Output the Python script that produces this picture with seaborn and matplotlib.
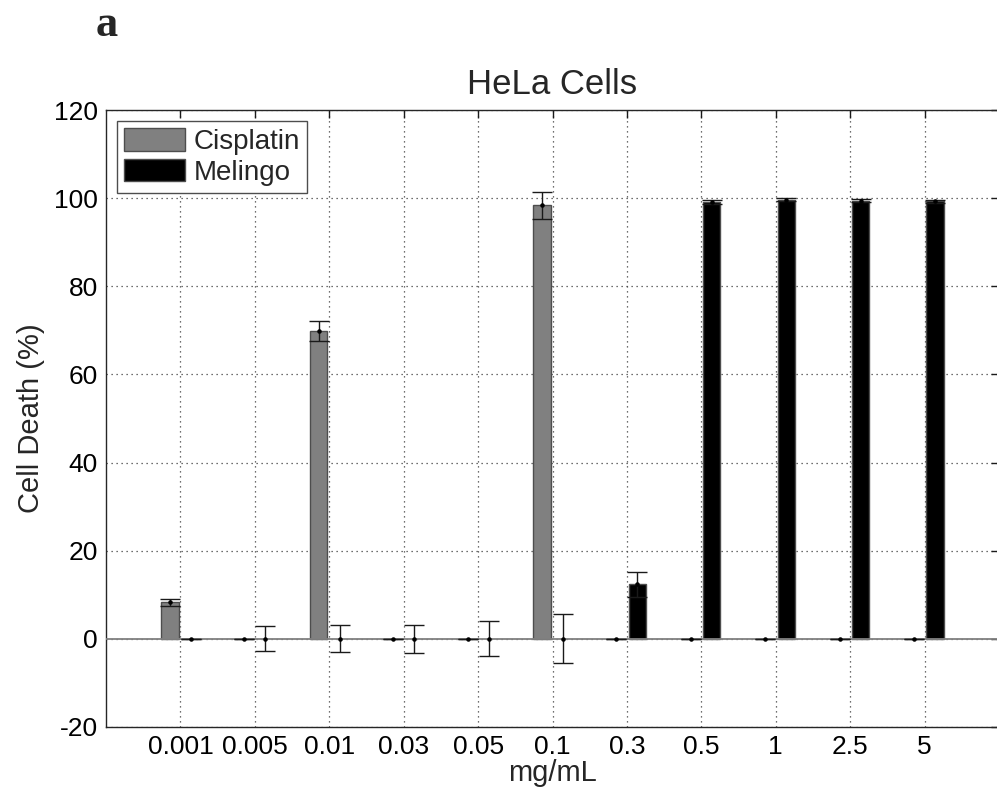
import matplotlib
matplotlib.use("Agg")
import matplotlib.pyplot as plt
from matplotlib.patches import Patch
import seaborn as sns
import pandas as pd
import numpy as np

concentrations = ["0.001", "0.005", "0.01", "0.03", "0.05", "0.1", "0.3", "0.5", "1", "2.5", "5"]
cisplatin = [8.3, 0, 69.8, 0, 0, 98.4, 0, 0, 0, 0, 0]
cisplatin_err = [0.8, 0, 2.3, 0, 0, 3.0, 0, 0, 0, 0, 0]
melingo = [0, 0, 0, 0, 0, 0, 12.3, 99.2, 99.7, 99.5, 99.3]
melingo_err = [0, 2.8, 3.1, 3.2, 3.9, 5.5, 2.8, 0.4, 0.3, 0.4, 0.4]
drugs = ["Cisplatin", "Melingo"]
colors = {"Cisplatin": "#808080", "Melingo": "#000000"}
y_ticks = [-20, 0, 20, 40, 60, 80, 100, 120]

df = pd.DataFrame({
    "conc": concentrations * 2,
    "death": cisplatin + melingo,
    "err": cisplatin_err + melingo_err,
    "drug": ["Cisplatin"] * len(concentrations) + ["Melingo"] * len(concentrations),
})

sns.set_style("white")
plt.rcParams["font.family"] = ["Liberation Sans", "DejaVu Sans"]
plt.rcParams["axes.unicode_minus"] = False

fig = plt.figure(figsize=(9.97, 7.96), dpi=100)
ax = fig.add_axes([106 / 997, 69.3 / 796, 893 / 997, 616.4 / 796])

sns.barplot(data=df, x="conc", y="death", hue="drug", order=concentrations,
            hue_order=drugs, palette=colors, width=0.56, gap=0.17,
            errorbar=None, legend=False, edgecolor="0.3", linewidth=1.0,
            saturation=1, ax=ax, zorder=3)

# error bars at each bar centre
err_lookup = {(d, c): e for d, c, e in zip(df["drug"], df["conc"], df["err"])}
val_lookup = {(d, c): v for d, c, v in zip(df["drug"], df["conc"], df["death"])}
for p in ax.patches:
    if p.get_height() == 0:
        p.set_linewidth(0)
    cx = p.get_x() + p.get_width() / 2
    idx = int(round(cx))
    drug = drugs[0] if cx < idx else drugs[1]
    c = concentrations[idx]
    ax.errorbar(cx, val_lookup[(drug, c)], yerr=err_lookup[(drug, c)], fmt=".",
                color="black", ecolor="0.1", elinewidth=1.0, capsize=7.5,
                capthick=1.0, markersize=4.5, zorder=5)

ax.axhline(0, color="0.5", lw=1.3, zorder=4)

ax.set_xlim(-1, 11)
ax.set_ylim(-20, 120)
ax.set_yticks(y_ticks)
ax.grid(True, linestyle=(0, (1, 3)), color="0.25", linewidth=0.9)
ax.set_axisbelow(True)
for s in ax.spines.values():
    s.set_color("0.15")
    s.set_linewidth(1.0)
ax.tick_params(direction="in", top=True, right=True, length=6, width=1,
               labelsize=19, pad=6, colors="0.1", labelcolor="black")

ax.set_xlabel("mg/mL", fontsize=21, labelpad=0)
ax.set_ylabel("Cell Death (%)", fontsize=21, labelpad=6)
ax.set_title("HeLa Cells", fontsize=25, pad=12)

handles = [Patch(facecolor=colors[d], edgecolor="0.3", label=d) for d in drugs]
leg = ax.legend(handles=handles, loc="upper left", fontsize=20, frameon=True,
                fancybox=False, edgecolor="0.3", framealpha=1,
                handlelength=2.2, handleheight=0.85, handletextpad=0.3,
                labelspacing=0.15, borderpad=0.25, borderaxespad=0.4)
leg.get_frame().set_linewidth(1.0)

fig.text(96 / 997, 1 - 36 / 796, "a", fontsize=32, fontweight="bold",
         family=["Liberation Serif", "DejaVu Serif"])

fig.savefig("out.png", dpi=100)
